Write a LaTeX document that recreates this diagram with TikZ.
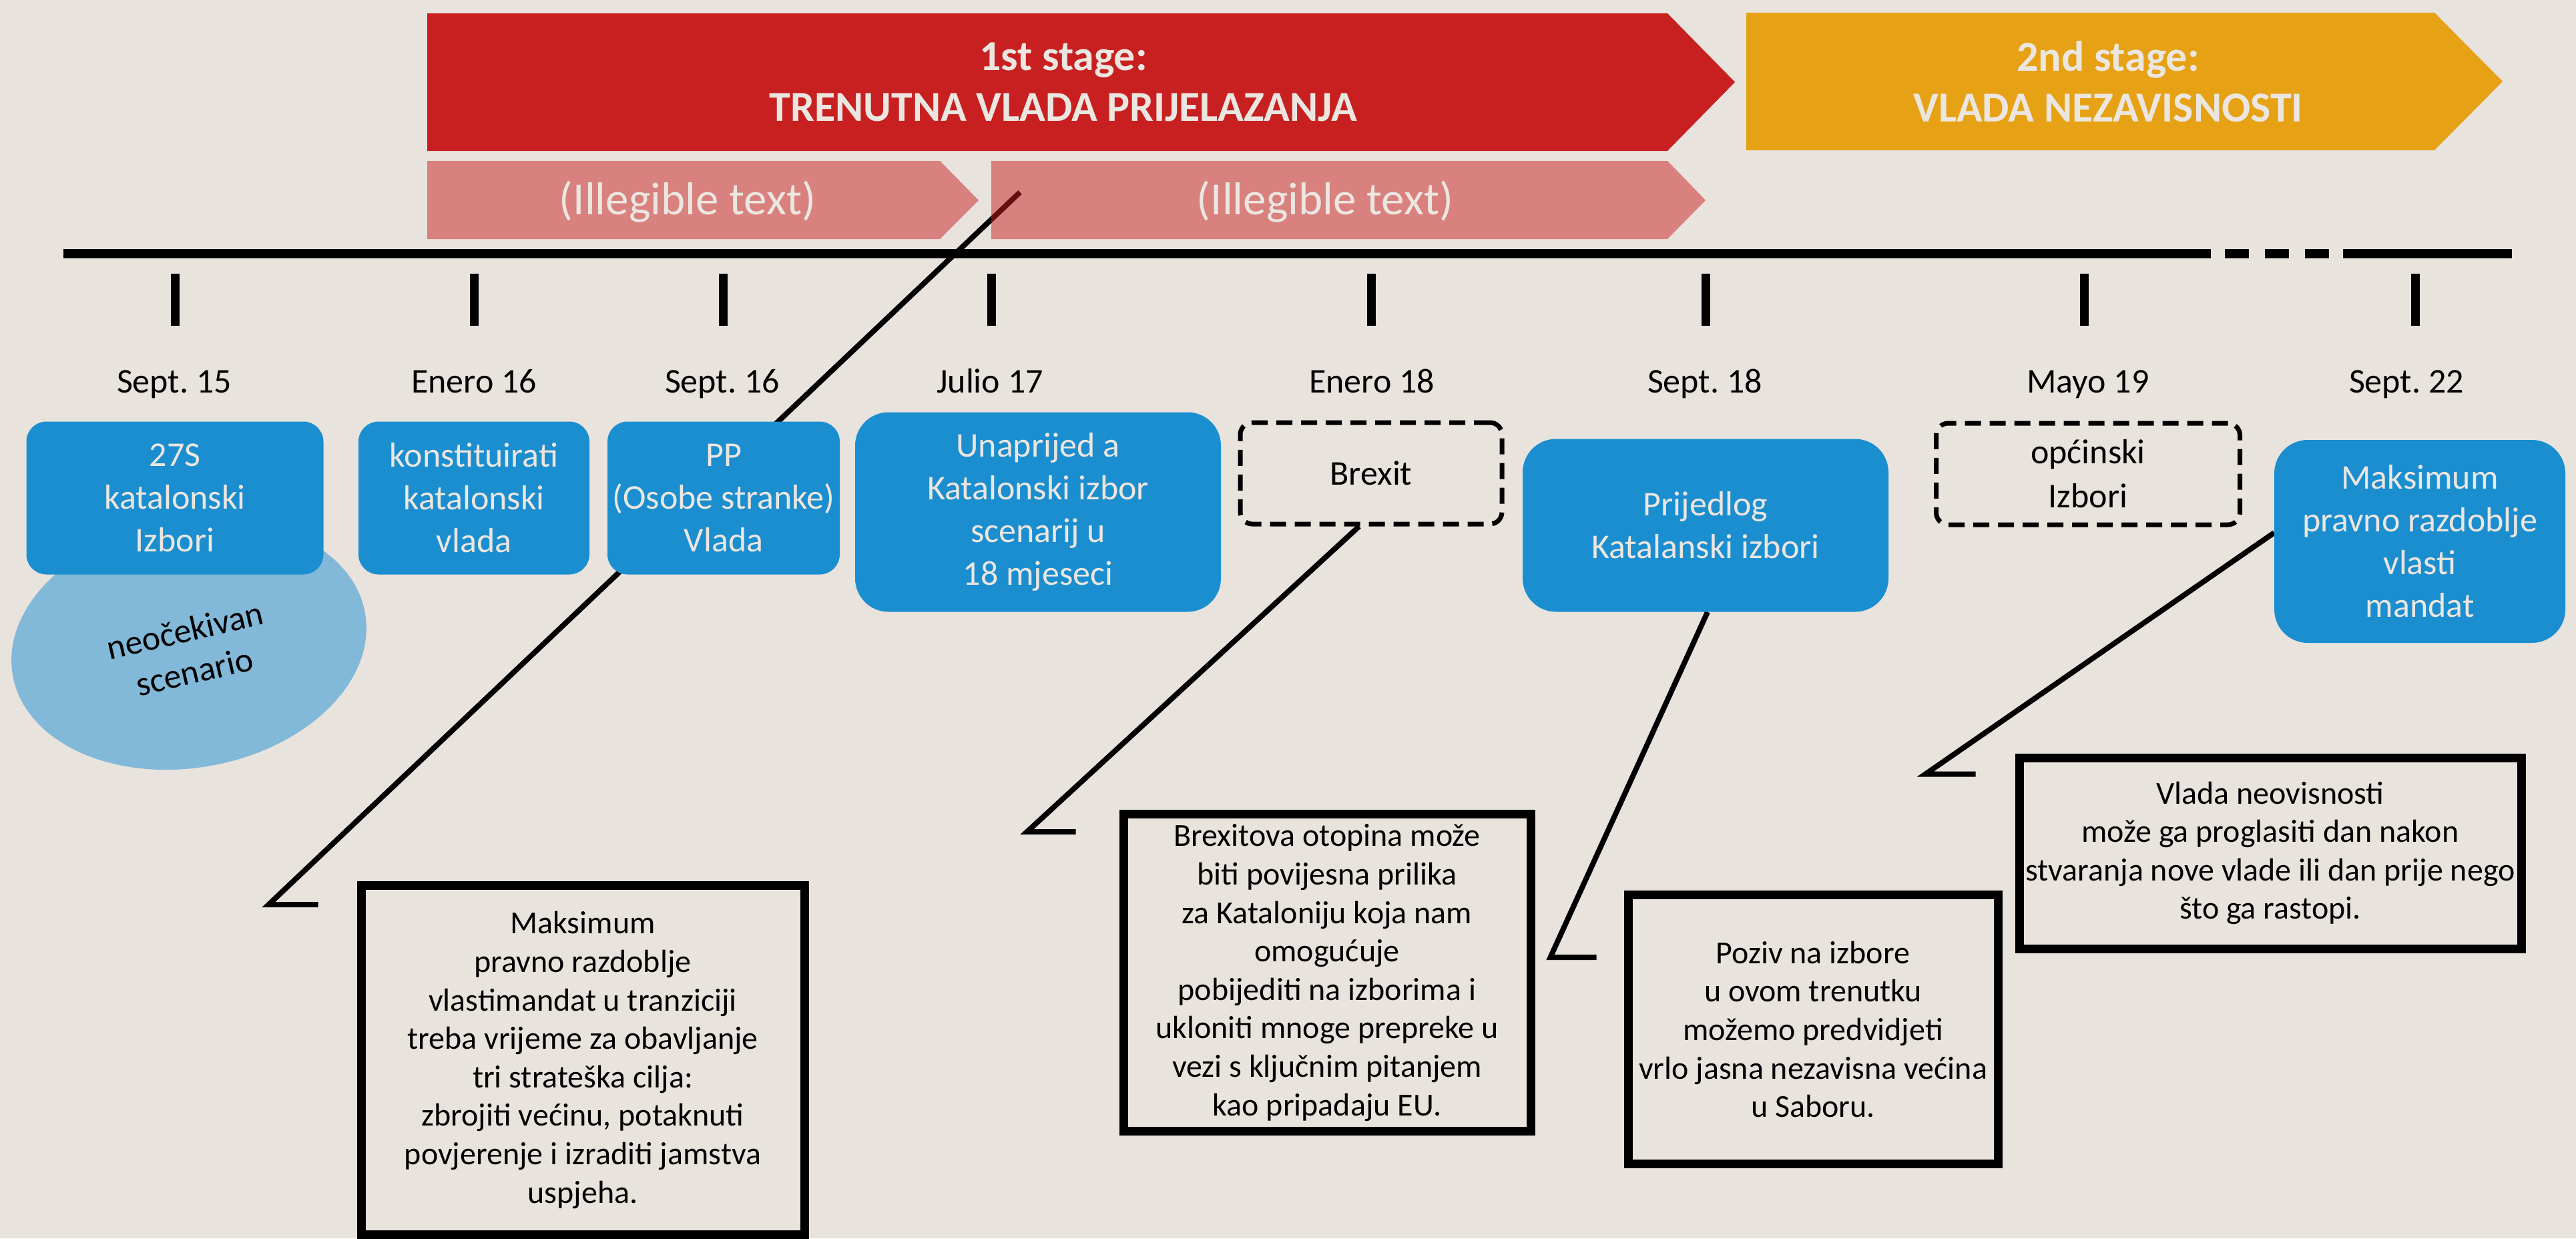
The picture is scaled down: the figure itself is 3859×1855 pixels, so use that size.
\documentclass[tikz,border=0pt]{standalone}
\usepackage{fontspec}
\setmainfont{Carlito}
\usetikzlibrary{calc}
\frenchspacing
\definecolor{bgc}{RGB}{233,227,221}
\definecolor{redc}{RGB}{200,32,32}
\definecolor{orangec}{RGB}{230,162,20}
\definecolor{bluec}{RGB}{27,142,208}
\definecolor{skyc}{RGB}{130,184,216}
\definecolor{lightc}{RGB}{236,230,224}
\pgfdeclarelayer{bg}
\pgfdeclarelayer{back}
\pgfsetlayers{bg,back,main}
\tikzset{
	title/.style={text=lightc, align=center, font=\bfseries\fontsize{64}{76}\selectfont},
	phasetext/.style={text=lightc, font=\fontsize{69}{76}\selectfont},
	date/.style={anchor=base, font=\fontsize{52}{62}\selectfont},
	tick/.style={line width=13pt},
	event/.style={fill=bluec, text=lightc, rounded corners=30pt, align=center, inner sep=0pt, font=\fontsize{52}{64}\selectfont},
	maybe/.style={draw, line width=7pt, dash pattern=on 24pt off 13pt, rounded corners=18pt, align=center, inner sep=0pt, font=\fontsize{52}{66}\selectfont},
	note/.style={draw, line width=13pt, align=center, inner sep=0pt, font=\fontsize{48}{57.6}\selectfont},
	pointer/.style={line width=8pt}
}
\begin{document}
\begin{tikzpicture}[x=1pt, y=-1pt]
	\begin{pgfonlayer}{bg}
		\fill [bgc] (0,0) rectangle (3859,1855);
	\end{pgfonlayer}
	\useasboundingbox (0,0) rectangle (3859,1855);

	% stages
	\fill [redc] (640,20) -- (2498,20) -- (2599,123) -- (2498,226) -- (640,226) -- cycle;
	\fill [orangec] (2616,19) -- (3647,19) -- (3749,122) -- (3647,225) -- (2616,225) -- cycle;
	\node [title] (stage1) at (1593,123) {1st stage:\\TRENUTNA VLADA PRIJELAZANJA};
	\node [title] (stage2) at (3158,122) {2nd stage:\\VLADA NEZAVISNOSTI};
	\fill [redc, opacity=0.5] (640,241) -- (1408,241) -- (1466,300) -- (1408,358) -- (640,358) -- cycle;
	\fill [redc, opacity=0.5] (1485,241) -- (2498,241) -- (2555,300) -- (2498,358) -- (1485,358) -- cycle;
	\node [phasetext] (phase1) at (1030,302) {(Illegible text)};
	\node [phasetext] (phase2) at (1985,302) {(Illegible text)};

	% timeline
	\draw [line width=14pt] (95,380) -- (3312,380);
	\draw [line width=14pt, dash pattern=on 36pt off 24pt] (3333,380) -- (3489,380);
	\draw [line width=14pt] (3510,380) -- (3763,380);
	\draw [tick] (262,410) -- (262,488);
	\draw [tick] (710,410) -- (710,488);
	\draw [tick] (1083,410) -- (1083,488);
	\draw [tick] (1485,410) -- (1485,488);
	\draw [tick] (2054,410) -- (2054,488);
	\draw [tick] (2555,410) -- (2555,488);
	\draw [tick] (3122,410) -- (3122,488);
	\draw [tick] (3618,410) -- (3618,488);
	\node [date] (d1) at (261,588) {Sept. 15};
	\node [date] (d2) at (710,588) {Enero 16};
	\node [date] (d3) at (1082,588) {Sept. 16};
	\node [date] (d4) at (1483,588) {Julio 17};
	\node [date] (d5) at (2055,588) {Enero 18};
	\node [date] (d6) at (2554,588) {Sept. 18};
	\node [date] (d7) at (3128,588) {Mayo 19};
	\node [date] (d8) at (3605,588) {Sept. 22};

	% events
	\fill [skyc, shift={(283,965)}, rotate=10] (0,0) ellipse [x radius=268, y radius=185];
	\node [rotate=13, align=center, font=\fontsize{52}{63}\selectfont] (unexp) at (284,975) {neočekivan\\scenario};
	\node [event, minimum width=445pt, minimum height=229pt] (e1) at (262,746) {27S\\katalonski\\Izbori};
	\node [event, minimum width=346pt, minimum height=229pt] (e2) at (710,746) {konstituirati\\katalonski\\vlada};
	\node [event, minimum width=348pt, minimum height=229pt] (e3) at (1084,746) {PP\\(Osobe stranke)\\Vlada};
	\node [event, rounded corners=50pt, minimum width=548pt, minimum height=299pt] (e4) at (1555,767) {Unaprijed a\\Katalonski izbor\\scenarij u\\18 mjeseci};
	\node [maybe, minimum width=392pt, minimum height=152pt] (brexit) at (2054,709) {Brexit};
	\node [event, rounded corners=50pt, minimum width=548pt, minimum height=259pt] (prij) at (2555,787) {Prijedlog\\Katalanski izbori};
	\node [maybe, minimum width=455pt, minimum height=152pt] (opc) at (3128,710) {općinski\\Izbori};
	\node [event, rounded corners=50pt, minimum width=436pt, minimum height=304pt] (maks) at (3625,811) {Maksimum\\pravno razdoblje\\vlasti\\mandat};

	% notes
	\node [note, minimum width=664pt, minimum height=523pt] (n1) at (873,1588) {Maksimum\\pravno razdoblje\\vlastimandat u tranziciji\\treba vrijeme za obavljanje\\tri strateška cilja:\\zbrojiti većinu, potaknuti\\povjerenje i izraditi jamstva\\uspjeha.};
	\node [note, minimum width=610pt, minimum height=475pt] (n2) at (1988,1457) {Brexitova otopina može\\biti povijesna prilika\\za Kataloniju koja nam\\omogućuje\\pobijediti na izborima i\\ukloniti mnoge prepreke u\\vezi s ključnim pitanjem\\kao pripadaju EU.};
	\node [note, minimum width=554pt, minimum height=403pt] (n3) at (2716,1542) {Poziv na izbore\\u ovom trenutku\\možemo predvidjeti\\vrlo jasna nezavisna većina\\u Saboru.};
	\node [note, minimum width=752pt, minimum height=286pt] (n4) at (3401,1278) {Vlada neovisnosti\\može ga proglasiti dan nakon\\stvaranja nove vlade ili dan prije nego\\što ga rastopi.};

	% pointers
	\coordinate (p1) at (1528,288);
	\begin{pgfonlayer}{back}
		\draw [pointer] (p1) -- ($(n1.north west)+(-132,35)$) -- ++(74,0);
		\draw [pointer] ($(brexit.south)+(-18,0)$) -- ($(n2.north west)+(-138,33)$) -- ++(73,0);
		\draw [pointer] ($(prij.south)+(3,0)$) -- ($(n3.north west)+(-110,100)$) -- ++(69,0);
		\draw [pointer] ($(maks.west)+(0,-13)$) -- ($(n4.north west)+(-134,31)$) -- ++(75,0);
	\end{pgfonlayer}
\end{tikzpicture}
\end{document}
